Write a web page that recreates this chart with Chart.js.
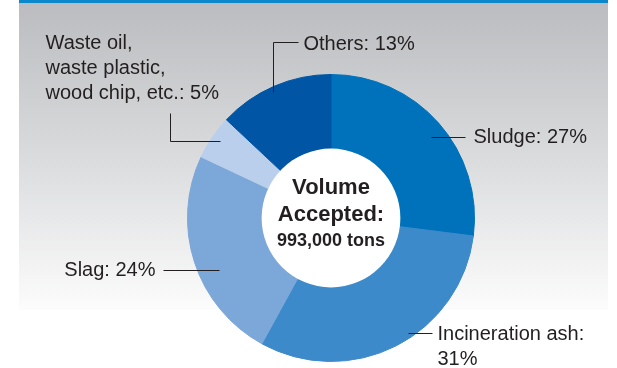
<!DOCTYPE html>
<html lang="en">
<head>
    <meta charset="UTF-8">
    <title>Volume Accepted</title>
    <script src="https://cdn.jsdelivr.net/npm/chart.js"></script>
    <style>
        body { margin: 0; background: #fff; }
        canvas { display: block; }
    </style>
</head>
<body>
<canvas id="chart" width="617" height="368"></canvas>

<script>
    // data
    const categories = ['Sludge', 'Incineration ash', 'Slag', 'Waste oil, waste plastic, wood chip, etc.', 'Others'];
    const shares = [27, 31, 24, 5, 13];
    const labelLines = [
        ['Sludge: 27%'],
        ['Incineration ash:', '31%'],
        ['Slag: 24%'],
        ['Waste oil,', 'waste plastic,', 'wood chip, etc.: 5%'],
        ['Others: 13%']
    ];
    const centerLines = ['Volume', 'Accepted:', '993,000 tons'];
    const colors = ['#0072bb', '#3d8acb', '#7ba7d9', '#b9cfeb', '#0055a4'];

    // where each leader line starts on its slice and how it runs to the text
    const leaders = [
        {dAngle: 2.3, rFrac: 0.90, path: [[34, 0]], text: [42, 0], align: 'left'},
        {dAngle: -6.6, rFrac: 0.965, path: [[24, 0]], text: [29, 1], align: 'left'},
        {dAngle: -6.7, rFrac: 0.86, path: [[-56, 0]], text: [-64, 0], align: 'right'},
        {dAngle: 0.6, rFrac: 0.94, path: [[-50, 0], [-50, -28]], text: [-175, -98], align: 'left'},
        {dAngle: -1.3, rFrac: 0.965, path: [[0, -50], [25, -50]], text: [30, -48], align: 'left'}
    ];

    const FONT = '"Liberation Sans", Arial, Helvetica, sans-serif';
    const INK = '#231f20';

    const backdrop = {
        id: 'backdrop',
        beforeDraw(chart) {
            const ctx = chart.ctx;
            ctx.save();
            const g = ctx.createLinearGradient(0, 3, 0, 310);
            g.addColorStop(0, '#bbbcbf');
            g.addColorStop(0.5, '#dadbdd');
            g.addColorStop(1, '#fcfcfc');
            ctx.fillStyle = g;
            ctx.fillRect(19, 0, 589, 310);
            ctx.fillStyle = '#0b88cc';
            ctx.fillRect(19, 0, 589, 3);
            ctx.restore();
        },
        afterDatasetsDraw(chart) {
            const ctx = chart.ctx;
            const arcs = chart.getDatasetMeta(0).data;
            const c = arcs[0];
            ctx.save();
            // white hole
            ctx.fillStyle = '#ffffff';
            ctx.beginPath();
            ctx.arc(c.x, c.y, c.innerRadius + 0.5, 0, Math.PI * 2);
            ctx.fill();

            // centre text
            ctx.fillStyle = INK;
            ctx.textAlign = 'center';
            ctx.textBaseline = 'middle';
            ctx.font = 'bold 22px ' + FONT;
            ctx.fillText(centerLines[0], c.x, c.y - 30);
            ctx.fillText(centerLines[1], c.x, c.y - 3);
            ctx.font = 'bold 18px ' + FONT;
            ctx.fillText(centerLines[2], c.x, c.y + 23);

            // leader lines and labels
            ctx.strokeStyle = INK;
            ctx.lineWidth = 1;
            ctx.font = '20px ' + FONT;
            arcs.forEach((arc, i) => {
                const L = leaders[i];
                const mid = (arc.startAngle + arc.endAngle) / 2 + L.dAngle * Math.PI / 180;
                const ax = Math.round(arc.x + arc.outerRadius * L.rFrac * Math.cos(mid)) + 0.5;
                const ay = Math.round(arc.y + arc.outerRadius * L.rFrac * Math.sin(mid)) + 0.5;
                ctx.beginPath();
                ctx.moveTo(ax, ay);
                L.path.forEach(p => ctx.lineTo(ax + p[0], ay + p[1]));
                ctx.stroke();
                ctx.textAlign = L.align;
                labelLines[i].forEach((line, k) => {
                    ctx.fillText(line, ax + L.text[0], ay + L.text[1] + k * 25);
                });
            });
            ctx.restore();
        }
    };

    new Chart(document.getElementById('chart'), {
        type: 'doughnut',
        data: {
            labels: categories,
            datasets: [{
                data: shares,
                backgroundColor: colors,
                borderColor: colors,
                borderWidth: 1
            }]
        },
        options: {
            responsive: false,
            animation: false,
            cutout: '48%',
            layout: {
                padding: {left: 187, right: 142, top: 74, bottom: 6}
            },
            plugins: {
                legend: {display: false},
                tooltip: {enabled: false}
            }
        },
        plugins: [backdrop]
    });
</script>
</body>
</html>
